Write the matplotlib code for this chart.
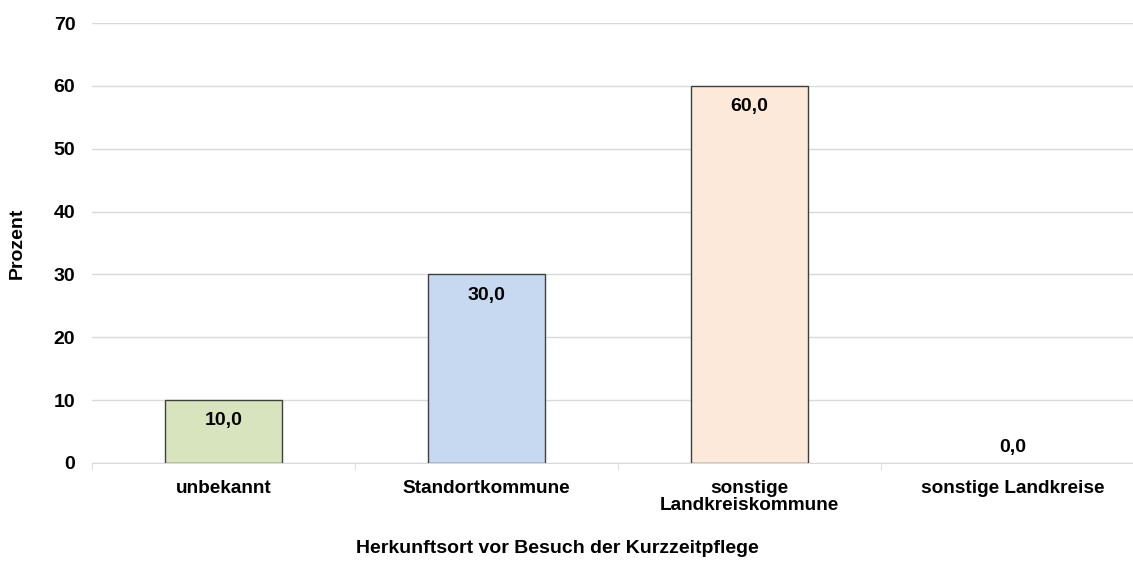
import matplotlib.pyplot as plt
import numpy as np

plt.rcParams['font.family'] = ['Liberation Sans', 'DejaVu Sans']
plt.rcParams['font.weight'] = 'bold'

# Herkunftsort der Gäste (Anteil in Prozent)
kategorien = ['unbekannt', 'Standortkommune', 'sonstige\nLandkreiskommune', 'sonstige Landkreise']
prozent = [10.0, 30.0, 60.0, 0.0]
farben = ['#D7E4BD', '#C6D9F1', '#FDE9D9', '#FDE9D9']

fig = plt.figure(figsize=(11.33, 5.61), dpi=100)
# Achse läuft rechts etwas über den Bildrand hinaus
ax = fig.add_axes([0.0812, 0.1747, 0.9285, 0.7843])

x = np.arange(len(kategorien))
randbreite = [1.0 if v > 0 else 0.0 for v in prozent]
ax.bar(x, prozent, width=0.445, color=farben, edgecolor='#404040', linewidth=randbreite, zorder=3)

# Werte in die Balken schreiben (Dezimalkomma)
for xi, wert in zip(x, prozent):
    versatz = -15 if wert > 0 else 11.5
    ax.annotate(f'{wert:.1f}'.replace('.', ','), (xi, wert), xytext=(0, versatz),
                textcoords='offset points', ha='center', va='center',
                fontsize=14, fontweight='bold', zorder=4)

ax.set_xlim(-0.5, len(kategorien) - 0.5)
ax.set_ylim(0, 70)
ax.set_yticks(np.arange(0, 71, 10))
ax.set_xticks(x)
ax.set_xticklabels(kategorien, fontsize=13.7, fontweight='bold', linespacing=1.0)
ax.set_xticks(np.arange(-0.5, len(kategorien)), minor=True)

ax.grid(axis='y', color='#D9D9D9', linewidth=1.0, zorder=0)
for s in ['top', 'right', 'left']:
    ax.spines[s].set_visible(False)
ax.spines['bottom'].set_color('#D9D9D9')
ax.spines['bottom'].set_zorder(2)

ax.tick_params(axis='y', length=0, labelsize=14, pad=12)
ax.tick_params(axis='x', which='major', length=0, pad=12)
ax.tick_params(axis='x', which='minor', length=5, color='#D9D9D9')

ax.set_ylabel('Prozent', fontsize=14, fontweight='bold', labelpad=20)
ax.set_xlabel('Herkunftsort vor Besuch der Kurzzeitpflege', fontsize=14, fontweight='bold', va='center')
ax.xaxis.set_label_coords(0.442, -0.195)

fig.savefig('out.png', dpi=100)
